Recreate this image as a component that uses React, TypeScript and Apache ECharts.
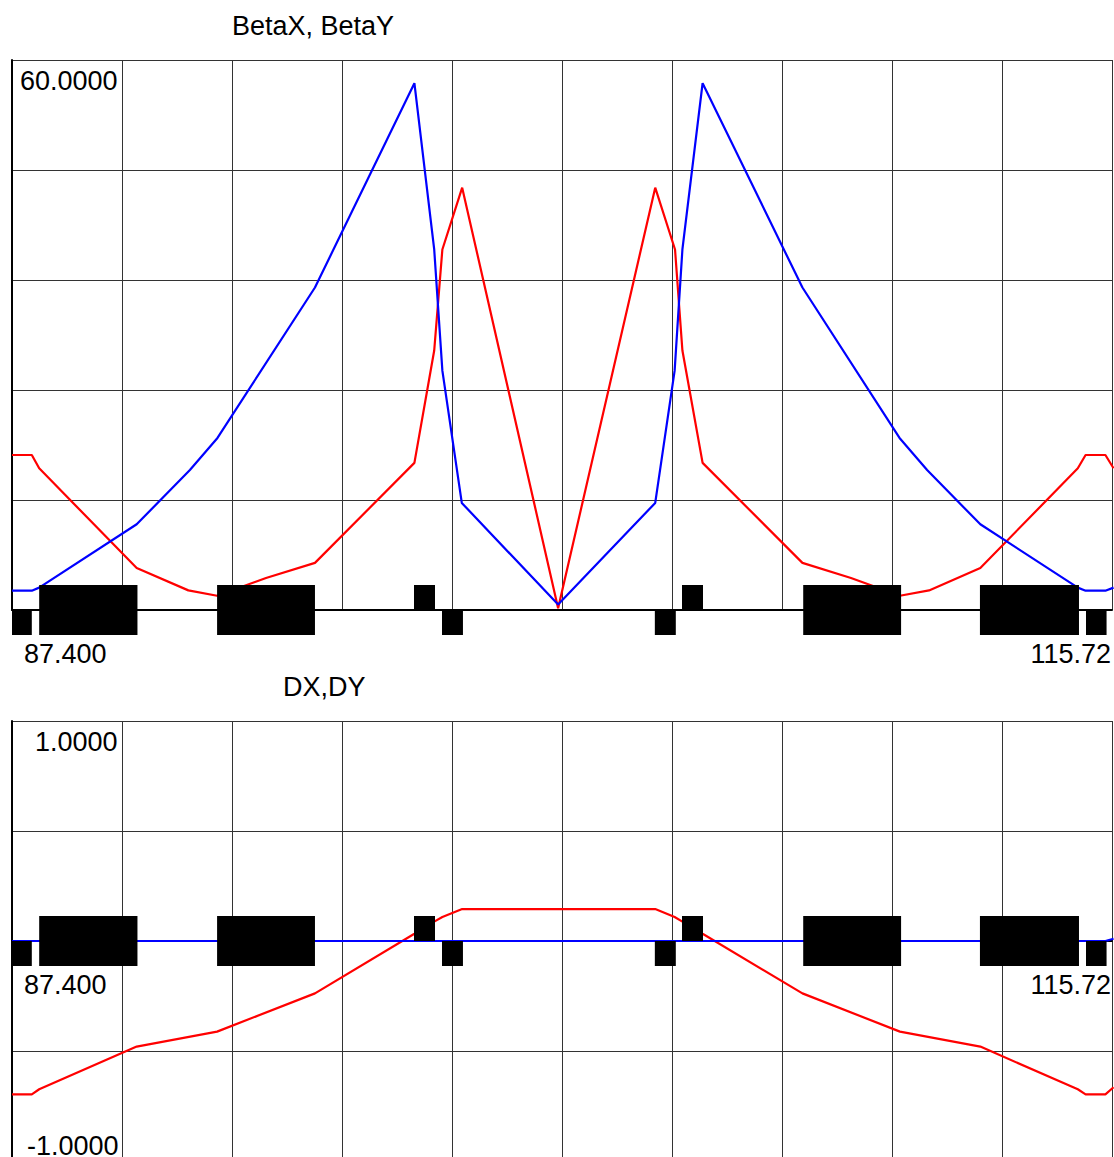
import React, { useEffect, useRef } from "react";
import * as echarts from "echarts";

// s range of the plot (m)
const S_MIN = 87.4;
const S_MAX = 115.72;

// Tick / axis texts
const xTickLabels = ["87.400", "115.72"];
const topYLabel = "60.0000";
const bottomYLabels = ["1.0000", "-1.0000"];
const titles = ["BetaX, BetaY", "DX,DY"];

// BetaX (red) [s, beta]
const betaX: number[][] = [
  [87.40, 16.91], [87.91, 16.91], [88.10, 15.46], [90.61, 4.58], [91.94, 2.14],
  [92.68, 1.55], [93.94, 3.49], [95.20, 5.14], [97.76, 16.05], [98.27, 28.31],
  [98.48, 39.33], [98.99, 46.07], [101.46, 0.20], [103.96, 46.07], [104.47, 39.33],
  [104.66, 28.31], [105.18, 16.05], [107.75, 5.14], [109.00, 3.49], [110.26, 1.55],
  [111.01, 2.14], [112.33, 4.58], [114.84, 15.46], [115.04, 16.91], [115.55, 16.91],
  [115.76, 15.46],
];

// BetaY (blue) [s, beta]
const betaY: number[][] = [
  [87.40, 2.11], [87.91, 2.11], [88.10, 2.44], [90.61, 9.35], [91.98, 15.27],
  [92.69, 18.77], [95.20, 35.18], [97.76, 57.47], [98.27, 39.33], [98.48, 26.11],
  [98.98, 11.68], [101.46, 0.59], [103.96, 11.68], [104.46, 26.11], [104.66, 39.33],
  [105.18, 57.47], [107.75, 35.18], [110.25, 18.77], [110.96, 15.27], [112.33, 9.35],
  [114.84, 2.44], [115.04, 2.11], [115.55, 2.11], [115.76, 2.44],
];

// DX (red) [s, D]
const dX: number[][] = [
  [87.40, -0.697], [87.91, -0.697], [88.10, -0.674], [90.61, -0.480], [92.68, -0.412],
  [95.20, -0.238], [97.76, 0.033], [98.27, 0.088], [98.48, 0.109], [98.99, 0.145],
  [103.96, 0.145], [104.46, 0.109], [104.66, 0.088], [105.18, 0.033], [107.75, -0.238],
  [110.26, -0.412], [112.33, -0.480], [114.84, -0.674], [115.04, -0.697], [115.55, -0.697],
  [115.76, -0.665],
];

// DY (blue) [s, D]
const dY: number[][] = [
  [87.40, 0], [101.46, 0], [115.55, 0], [115.76, 0.01],
];

// Lattice elements: start s, end s, side (1 above axis, -1 below, 0 both)
const elemStart = [87.40, 88.10, 92.68, 97.75, 98.47, 103.95, 104.65, 107.77, 112.32, 115.05];
const elemEnd = [87.91, 90.63, 95.20, 98.29, 99.01, 104.49, 105.19, 110.29, 114.87, 115.58];
const elemSide = [-1, 0, 0, 1, -1, -1, 1, 0, 0, -1];

const STEP = (S_MAX - S_MIN) / 10;
const toX = (s: number) => (s - S_MIN) / STEP;

const FONT = '27px "Liberation Sans", Arial, Helvetica, sans-serif';

function txt(text: string, x: number, y: number, align: string) {
  return {
    type: "text",
    x,
    y,
    silent: true,
    style: {
      text,
      font: FONT,
      fill: "#000",
      align,
      verticalAlign: "middle",
      textAlign: align,
      textVerticalAlign: "middle",
    },
  };
}

export default function App() {
  const ref = useRef<HTMLDivElement>(null);

  useEffect(() => {
    document.body.style.margin = "0";
    if (!ref.current) return;
    const chart = echarts.init(ref.current, undefined, { renderer: "svg" });

    const elemData = elemStart.map((s, i) => [toX(s), toX(elemEnd[i]), elemSide[i]]);

    const renderElem = (params: any, api: any) => {
      const a = api.coord([api.value(0), 0]);
      const b = api.coord([api.value(1), 0]);
      const side = api.value(2);
      const H = 25;
      let y = a[1] - H;
      let h = 2 * H;
      if (side === 1) { y = a[1] - H; h = H; }
      else if (side === -1) { y = a[1]; h = H; }
      return {
        type: "rect",
        shape: { x: a[0], y, width: b[0] - a[0], height: h },
        style: { fill: "#000" },
      };
    };

    const splitLine = { show: true, lineStyle: { color: "#333", width: 1 } };
    const xAxisBase = {
      type: "value",
      min: 0,
      max: 10,
      interval: 1,
      axisLine: { show: true, onZero: true, lineStyle: { color: "#000", width: 2 } },
      axisTick: { show: false },
      axisLabel: { show: false },
      splitLine,
    };
    const yAxisBase = {
      type: "value",
      axisLine: { show: true, lineStyle: { color: "#000", width: 2 } },
      axisTick: { show: false },
      axisLabel: { show: false },
      splitLine,
    };

    const line = (name: string, data: number[][], color: string, idx: number) => ({
      name,
      type: "line",
      xAxisIndex: idx,
      yAxisIndex: idx,
      data: data.map((p) => [toX(p[0]), p[1]]),
      showSymbol: false,
      symbol: "none",
      clip: false,
      z: 3,
      lineStyle: { color, width: 2.2 },
      itemStyle: { color },
    });

    chart.setOption({
      animation: false,
      backgroundColor: "#fff",
      grid: [
        { left: 12, top: 60, width: 1100, height: 550, outerBoundsMode: "none", containLabel: false },
        { left: 12, top: 721, width: 1100, height: 440, outerBoundsMode: "none", containLabel: false },
      ],
      xAxis: [
        { ...xAxisBase, gridIndex: 0 },
        { ...xAxisBase, gridIndex: 1 },
      ],
      yAxis: [
        { ...yAxisBase, gridIndex: 0, min: 0, max: 60, interval: 12 },
        { ...yAxisBase, gridIndex: 1, min: -1, max: 1, interval: 0.5 },
      ],
      series: [
        line("BetaX", betaX, "#ff0000", 0),
        line("BetaY", betaY, "#0000ff", 0),
        line("DX", dX, "#ff0000", 1),
        line("DY", dY, "#0000ff", 1),
        {
          type: "custom",
          xAxisIndex: 0,
          yAxisIndex: 0,
          z: 5,
          renderItem: renderElem,
          encode: { x: [0, 1], y: 2 },
          data: elemData,
        },
        {
          type: "custom",
          xAxisIndex: 1,
          yAxisIndex: 1,
          z: 5,
          renderItem: renderElem,
          encode: { x: [0, 1], y: 2 },
          data: elemData,
        },
      ],
      graphic: [
        txt(titles[0], 232, 26, "left"),
        txt(topYLabel, 117.5, 81, "right"),
        txt(xTickLabels[0], 24, 654, "left"),
        txt(xTickLabels[1], 1111, 654, "right"),
        txt(titles[1], 283, 686.5, "left"),
        txt(bottomYLabels[0], 117.5, 741.5, "right"),
        txt(xTickLabels[0], 24, 984.5, "left"),
        txt(xTickLabels[1], 1111, 984.5, "right"),
        txt(bottomYLabels[1], 118.5, 1145.5, "right"),
      ],
    });

    return () => chart.dispose();
  }, []);

  return (
    <div
      ref={ref}
      style={{ position: "absolute", left: 0, top: 0, width: 1114, height: 1157 }}
    />
  );
}
